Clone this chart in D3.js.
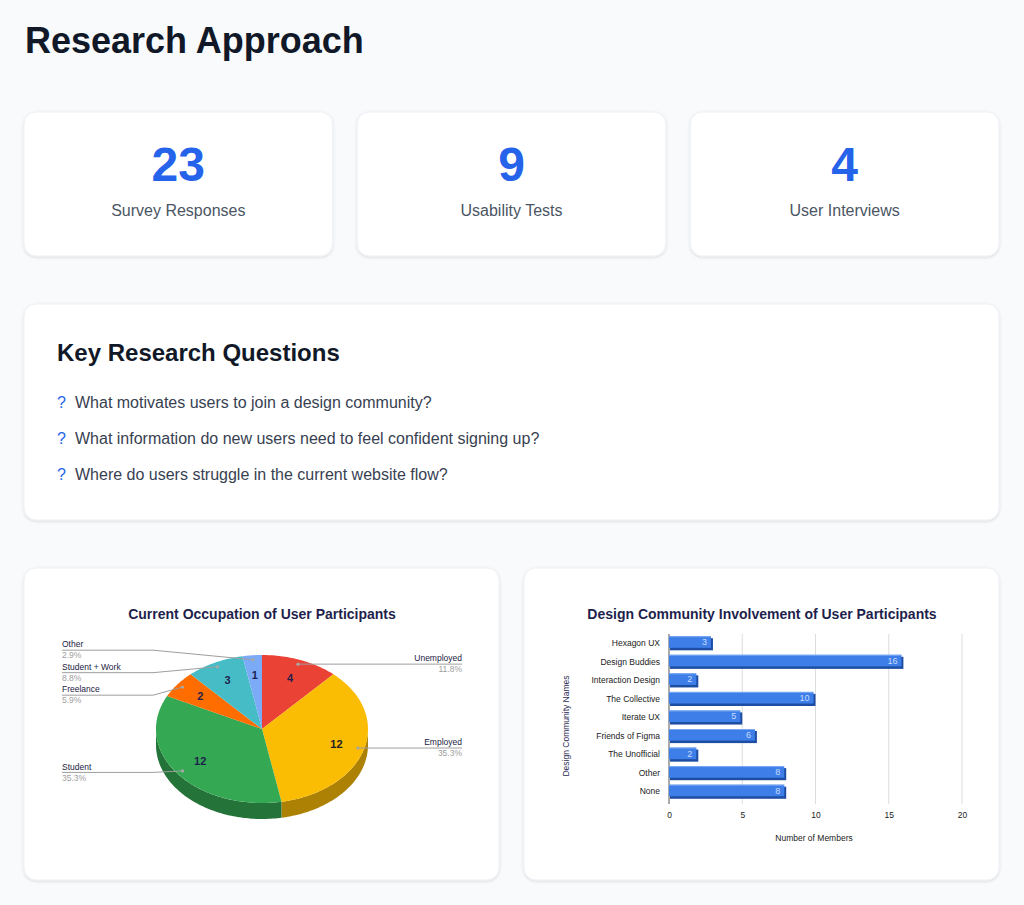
<!DOCTYPE html>
<html><head><meta charset="utf-8">
<script src="https://cdn.jsdelivr.net/npm/d3@7"></script>
<style>
html,body{margin:0;padding:0;background:#f8fafc;}
svg{display:block;font-family:"Liberation Sans",Arial,Helvetica,sans-serif;}
</style></head><body>
<svg id="page" width="1024" height="905"></svg>
<script>
// ---------- data ----------
const pageTitle = "Research Approach";
const statValues = [23, 9, 4];
const statLabels = ["Survey Responses", "Usability Tests", "User Interviews"];
const questionsTitle = "Key Research Questions";
const questions = [
  "What motivates users to join a design community?",
  "What information do new users need to feel confident signing up?",
  "Where do users struggle in the current website flow?"
];
const pieTitle = "Current Occupation of User Participants";
const occupations = ["Unemployed", "Employed", "Student", "Freelance", "Student + Work", "Other"];
const occupationCounts = [4, 12, 12, 2, 3, 1];
const occupationColors = ["#ea4335", "#fbbc04", "#34a853", "#ff6d01", "#46bdc6", "#7baaf7"];
const barTitle = "Design Community Involvement of User Participants";
const communities = ["Hexagon UX", "Design Buddies", "Interaction Design", "The Collective", "Iterate UX", "Friends of Figma", "The Unofficial", "Other", "None"];
const communityMembers = [3, 16, 2, 10, 5, 6, 2, 8, 8];
const memberTicks = [0, 5, 10, 15, 20];
const xAxisTitle = "Number of Members";
const yAxisTitle = "Design Community Names";

// ---------- page ----------
const svg = d3.select("#page");
const defs = svg.append("defs");
const f = defs.append("filter").attr("id", "shadow").attr("x", "-5%").attr("y", "-5%").attr("width", "110%").attr("height", "115%");
f.append("feDropShadow").attr("dx", 0).attr("dy", 1).attr("stdDeviation", 1.6).attr("flood-color", "#000").attr("flood-opacity", 0.13);

function card(x, y, w, h) {
  svg.append("rect").attr("x", x).attr("y", y).attr("width", w).attr("height", h)
    .attr("rx", 12).attr("fill", "#fff").attr("stroke", "#eef1f5").attr("stroke-width", 1)
    .attr("filter", "url(#shadow)");
}

svg.append("text").attr("x", 25).attr("y", 53).attr("font-size", 36).attr("font-weight", 700)
  .attr("fill", "#111827").text(pageTitle);

// stat cards
const statX = d3.scaleBand().domain(d3.range(statValues.length)).range([24, 999]).paddingInner(24 / 325);
statValues.forEach((v, i) => {
  const x = statX(i), w = statX.bandwidth();
  card(x, 112, w, 144);
  svg.append("text").attr("x", x + w / 2).attr("y", 181).attr("text-anchor", "middle")
    .attr("font-size", 48).attr("font-weight", 700).attr("fill", "#2563eb").text(v);
  svg.append("text").attr("x", x + w / 2).attr("y", 216).attr("text-anchor", "middle")
    .attr("font-size", 16).attr("fill", "#4b5563").text(statLabels[i]);
});

// questions card
card(24, 304, 975, 216);
svg.append("text").attr("x", 57).attr("y", 361).attr("font-size", 24).attr("font-weight", 700)
  .attr("fill", "#111827").text(questionsTitle);
questions.forEach((q, i) => {
  const y = 408 + i * 36;
  svg.append("text").attr("x", 57).attr("y", y).attr("font-size", 16).attr("fill", "#2563eb").text("?");
  svg.append("text").attr("x", 75).attr("y", y).attr("font-size", 16).attr("fill", "#374151").text(q);
});

// chart cards
card(24, 568, 475, 312);
card(524, 568, 475, 312);

// ---------- pie chart ----------
const navy = "#1f1f4d";
svg.append("text").attr("x", 262).attr("y", 619).attr("text-anchor", "middle")
  .attr("font-size", 14).attr("font-weight", 700).attr("fill", navy).text(pieTitle);

const cx = 262, cy = 729, rx = 106, ry = 74, depth = 16;
const pieData = d3.pie().sort(null).value(d => d)(occupationCounts);
const total = d3.sum(occupationCounts);
const pt = (a, k = 1, off = 0) => [cx + rx * k * Math.sin(a), cy - ry * k * Math.cos(a) + off];
function arcPts(a0, a1, off) {
  const n = Math.max(2, Math.ceil(Math.abs(a1 - a0) / 0.02));
  return d3.range(n + 1).map(i => pt(a0 + (a1 - a0) * i / n, 1, off));
}
const line = d3.line();
const pieG = svg.append("g");
// sides
pieData.forEach((d, i) => {
  const lo = Math.max(d.startAngle, Math.PI / 2), hi = Math.min(d.endAngle, 3 * Math.PI / 2);
  if (lo < hi) {
    const pts = arcPts(lo, hi, 0).concat(arcPts(hi, lo, depth));
    pieG.append("path").attr("d", line(pts) + "Z")
      .attr("fill", d3.color(occupationColors[i]).darker(1.05));
  }
});
// tops
pieData.forEach((d, i) => {
  const pts = [[cx, cy]].concat(arcPts(d.startAngle, d.endAngle, 0));
  pieG.append("path").attr("d", line(pts) + "Z").attr("fill", occupationColors[i]);
});
// inner values
pieData.forEach((d, i) => {
  const m = (d.startAngle + d.endAngle) / 2;
  const p = pt(m, 0.73);
  pieG.append("text").attr("x", p[0]).attr("y", p[1]).attr("dy", "0.35em").attr("text-anchor", "middle")
    .attr("font-size", 11).attr("font-weight", 700).attr("fill", i === 1 ? "#222" : navy).text(d.value);
});
// outer labels
const labels = pieData.map((d, i) => {
  const m = (d.startAngle + d.endAngle) / 2;
  const dot = pt(m, 0.94);
  return { i, m, dot, left: m > Math.PI, y: dot[1] };
});
function resolve(list, spacing) {
  list.sort((a, b) => a.y - b.y);
  let clusters = list.map(l => ({ items: [l], want: [l.y] }));
  const place = c => {
    const mean = d3.mean(c.want);
    const n = c.items.length;
    c.items.forEach((it, k) => it.ly = mean + (k - (n - 1) / 2) * spacing);
  };
  clusters.forEach(place);
  let merged = true;
  while (merged) {
    merged = false;
    for (let k = 0; k < clusters.length - 1; k++) {
      const a = clusters[k], b = clusters[k + 1];
      if (b.items[0].ly - a.items[a.items.length - 1].ly < spacing) {
        const c = { items: a.items.concat(b.items), want: a.want.concat(b.want) };
        place(c);
        clusters.splice(k, 2, c);
        merged = true;
        break;
      }
    }
  }
}
resolve(labels.filter(l => l.left), 22.5);
resolve(labels.filter(l => !l.left), 22.5);
labels.forEach(l => {
  const textX = l.left ? 62 : 462;
  const elbowX = l.left ? cx - rx - 3 : cx + rx + 3;
  const ly = l.ly + (l.left ? 1.5 : 0);
  pieG.append("path").attr("d", line([[textX, ly], [elbowX, ly], l.dot]))
    .attr("fill", "none").attr("stroke", "#9e9e9e").attr("stroke-width", 1);
  pieG.append("circle").attr("cx", l.dot[0]).attr("cy", l.dot[1]).attr("r", 1.6).attr("fill", "#a8a8a8");
  const anchor = l.left ? "start" : "end";
  pieG.append("text").attr("x", textX).attr("y", ly - 2.7).attr("text-anchor", anchor)
    .attr("font-size", 8.5).attr("fill", "#222244").text(occupations[l.i]);
  pieG.append("text").attr("x", textX).attr("y", ly + 8.3).attr("text-anchor", anchor)
    .attr("font-size", 8.5).attr("fill", "#9e9e9e")
    .text((occupationCounts[l.i] / total * 100).toFixed(1) + "%");
});

// ---------- bar chart ----------
svg.append("text").attr("x", 762).attr("y", 619).attr("text-anchor", "middle")
  .attr("font-size", 14).attr("font-weight", 700).attr("fill", navy).text(barTitle);

const x = d3.scaleLinear().domain([0, 20]).range([669, 962]);
const y = d3.scaleBand().domain(communities).range([634, 801]).paddingInner(0.24).paddingOuter(0.12);
const barG = svg.append("g");
// grid
barG.selectAll("line.grid").data(memberTicks.filter(t => t > 0)).join("line")
  .attr("x1", d => x(d)).attr("x2", d => x(d)).attr("y1", 634).attr("y2", 804)
  .attr("stroke", "#dcdcdc").attr("stroke-width", 1);
barG.append("line").attr("x1", x(0)).attr("x2", x(0)).attr("y1", 634).attr("y2", 804)
  .attr("stroke", "#555").attr("stroke-width", 1);
// bars
const bh = y.bandwidth();
communities.forEach((c, i) => {
  const v = communityMembers[i];
  const y0 = y(c), x0 = x(0), x1 = x(v);
  barG.append("rect").attr("x", x0 + 1).attr("y", y0 + 2).attr("width", x1 - x0 - 1).attr("height", bh - 2)
    .attr("fill", "#1e4ea3");
  barG.append("rect").attr("x", x0).attr("y", y0).attr("width", x1 - x0 - 2).attr("height", bh - 2.5)
    .attr("fill", "#3d7ee8");
  barG.append("rect").attr("x", x0).attr("y", y0).attr("width", x1 - x0 - 2).attr("height", 1)
    .attr("fill", "#7aa8f3");
  barG.append("text").attr("x", x1 - 6).attr("y", y0 + (bh - 2.5) / 2).attr("dy", "0.35em")
    .attr("text-anchor", "end").attr("font-size", 9).attr("fill", "#c7dbfb").text(v);
});
// axes
const xAxis = barG.append("g").attr("transform", "translate(0,804)")
  .call(d3.axisBottom(x).tickValues(memberTicks).tickSize(0).tickPadding(8));
xAxis.select(".domain").remove();
xAxis.selectAll("text").attr("font-size", 8.5).attr("fill", "#222").attr("font-family", null);
const yAxis = barG.append("g").attr("transform", "translate(669,0)")
  .call(d3.axisLeft(y).tickSize(0).tickPadding(9));
yAxis.select(".domain").remove();
yAxis.selectAll("text").attr("font-size", 8.5).attr("fill", "#222").attr("font-family", null);
barG.append("text").attr("x", 814).attr("y", 840.5).attr("text-anchor", "middle")
  .attr("font-size", 8.5).attr("fill", "#222").text(xAxisTitle);
barG.append("text").attr("transform", "translate(569,726) rotate(-90)").attr("text-anchor", "middle")
  .attr("font-size", 8.5).attr("fill", "#2a2a55").text(yAxisTitle);
</script>
</body></html>
